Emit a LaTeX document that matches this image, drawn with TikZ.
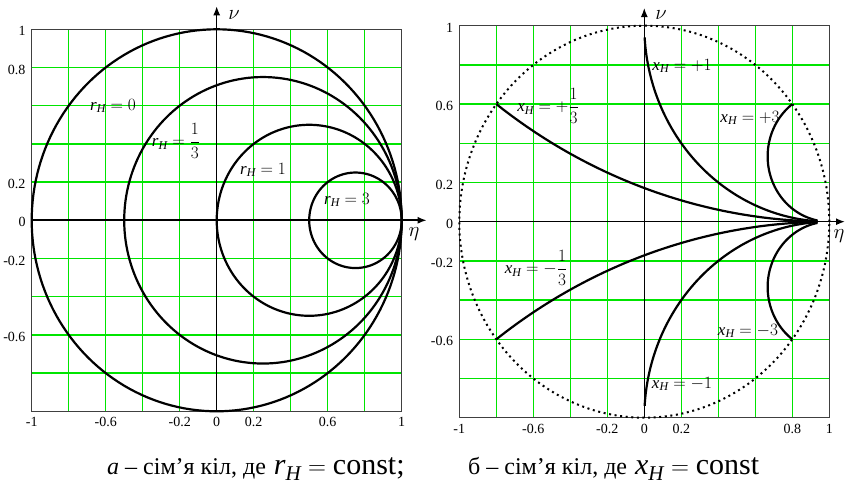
\documentclass[tikz,border=0pt]{standalone}
\usepackage{amsmath}
\usepackage{fontspec}
\setmainfont{Liberation Serif}
\usetikzlibrary{arrows.meta}
\newcommand{\rH}{\textit{r}_{\textit{H}}}
\newcommand{\xH}{\textit{x}_{\textit{H}}}

\begin{document}
\begin{tikzpicture}[x=1pt, y=1pt, >={Latex[length=9pt,width=7pt]},
   gridline/.style={green!90!black, line width=1.5pt},
   frame/.style={draw=black!75, line width=0.9pt},
   axis/.style={->, line width=1.6pt},
   curve/.style={line width=2.2pt, line join=round},
   dotcirc/.style={line width=2pt, dash pattern=on 2pt off 3.6pt},
   tick/.style={font=\fontsize{14}{16}\selectfont, inner sep=0pt},
   lbl/.style={font=\fontsize{17}{19}\selectfont, inner sep=0pt},
   axlbl/.style={font=\fontsize{21}{23}\selectfont, inner sep=0pt},
   caption/.style={anchor=base west, inner sep=0pt, font=\fontsize{24}{28}\selectfont}]
\useasboundingbox (0,0) rectangle (847,484);

% a) r_H = const
\begin{scope}[shift={(216.7,263.7)}, x=185pt, y=191pt]
\foreach \k in {-5,...,5} {
  \draw[gridline] (\k/5,-1) -- (\k/5,1);
  \draw[gridline] (-1,\k/5) -- (1,\k/5);
}
\draw[frame] (-1,-1) rectangle (1,1);
\coordinate (aW) at (-1,0);
\coordinate (aE) at (1.135,0);
\coordinate (aS) at (0,-1);
\coordinate (aN) at (0,1.12);
\draw[axis] (aW) -- (aE);
\draw[axis, line width=1.2pt] (aS) -- (aN);
\foreach \c/\r in {0/1, 0.25/0.75, 0.5/0.5, 0.75/0.25}
  \draw[curve] plot[domain=0:360, samples=181, variable=\t] ({\c+\r*cos(\t)},{\r*sin(\t)}) -- cycle;
\foreach \v [count=\i] in {1, 0.8, 0.2, 0, -0.2, -0.6}
  \node[tick, anchor=east, xshift=-6pt, yshift=-2pt] (ay\i) at (-1,\v) {\v};
\foreach \v [count=\i] in {-1, -0.6, -0.2, 0, 0.2, 0.6, 1}
  \node[tick, anchor=north, yshift=-6pt] (ax\i) at (\v,-1) {\v};
\end{scope}
\node[axlbl] (anu) at (234,469) {$\nu$};
\node[axlbl] (aeta) at (414,250) {$\eta$};
\node[lbl] (ar0) at (113,378) {$\rH = 0$};
\node[lbl] (ar1) at (176,343) {$\rH = \dfrac{1}{3}$};
\node[lbl] (ar2) at (263,314) {$\rH = 1$};
\node[lbl] (ar3) at (347,284) {$\rH = 3$};
\node[caption] (capa) at (107,9)
  {\textit{а} – сім’я кіл, де\hspace{8pt}{\fontsize{30}{34}\selectfont$\rH = \text{const}$;}};

% b) x_H = const
\begin{scope}[shift={(644.3,262.3)}, x=185pt, y=196pt]
\foreach \k in {-5,...,5} {
  \draw[gridline] (\k/5,-1) -- (\k/5,1);
  \draw[gridline] (-1,\k/5) -- (1,\k/5);
}
\draw[frame] (-1,-1) rectangle (1,1);
\draw[dotcirc] plot[domain=0:360, samples=181, variable=\t] ({cos(\t)},{sin(\t)});
\coordinate (bW) at (-1,0);
\coordinate (bE) at (1.085,0);
\coordinate (bS) at (0,-1);
\coordinate (bN) at (0,1.09);
\draw[axis] (bW) -- (bE);
\draw[axis, line width=1.2pt] (bS) -- (bN);
\foreach \cy/\rr/\a/\b in {3/3/233.13/268.78, -3/3/91.22/126.87, 1/1/183.44/266.33,
    -1/1/93.67/176.56, 0.3333/0.3333/126.87/258.93, -0.3333/0.3333/101.07/233.13}
  \draw[curve] plot[domain=\a:\b, samples=120, variable=\t] ({1+\rr*cos(\t)},{\cy+\rr*sin(\t)});
\foreach \v [count=\i] in {1, 0.6, 0.2, 0, -0.2, -0.6}
  \node[tick, anchor=east, xshift=-6pt, yshift=-2pt] (by\i) at (-1,\v) {\v};
\foreach \v [count=\i] in {-1, -0.6, -0.2, 0, 0.2, 0.8, 1}
  \node[tick, anchor=north, yshift=-6pt] (bx\i) at (\v,-1) {\v};
\end{scope}
\node[axlbl] (bnu) at (661,469) {$\nu$};
\node[axlbl] (beta) at (839,248) {$\eta$};
\node[lbl] (bl1) at (682,418) {$\xH = +1$};
\node[lbl] (bl2) at (548,378) {$\xH = +\dfrac{1}{3}$};
\node[lbl] (bl3) at (750,366) {$\xH = +3$};
\node[lbl] (bl4) at (536,216) {$\xH = -\dfrac{1}{3}$};
\node[lbl] (bl5) at (748,153) {$\xH = -3$};
\node[lbl] (bl6) at (682,100) {$\xH = -1$};
\node[caption] (capb) at (468,9)
  {б – сім’я кіл, де\hspace{8pt}{\fontsize{30}{34}\selectfont$\xH = \text{const}$}};
\end{tikzpicture}
\end{document}
